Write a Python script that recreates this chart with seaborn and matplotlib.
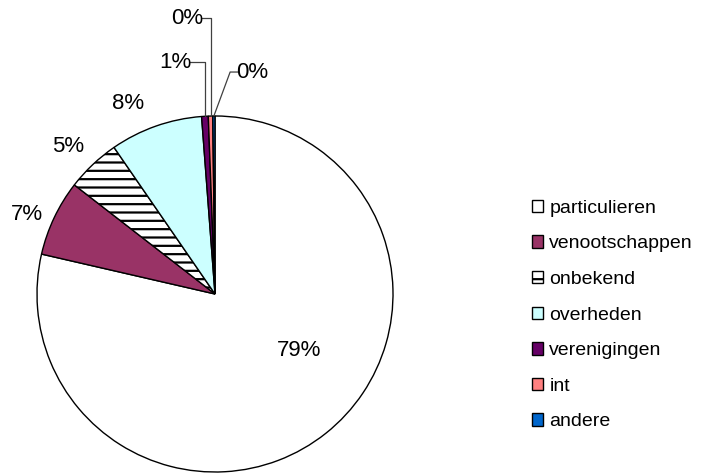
import numpy as np
import matplotlib
matplotlib.use("Agg")
import matplotlib.pyplot as plt
import seaborn as sns
from matplotlib.patches import Patch

sns.set_theme(style="white")
plt.rcParams['font.family'] = ['Liberation Sans', 'DejaVu Sans']
plt.rcParams['hatch.linewidth'] = 1.6
plt.rcParams['text.color'] = 'black'

categories = ["particulieren", "venootschappen", "onbekend", "overheden",
              "verenigingen", "int", "andere"]
values = [78.6, 6.9, 4.9, 8.4, 0.6, 0.4, 0.2]
colors = ["#FFFFFF", "#993366", "#FFFFFF", "#CCFFFF", "#660066", "#FF8080", "#0066CC"]
hatches = [None, None, "--", None, None, None, None]

W, H = 710, 473
fig = plt.figure(figsize=(W / 100, H / 100), dpi=100)
cx, cy, R = 215, 294, 178
ax = fig.add_axes([(cx - R) / W, (H - cy - R) / H, 2 * R / W, 2 * R / H])

wedges, _ = ax.pie(values, colors=colors, startangle=90, counterclock=False,
                   radius=1, wedgeprops=dict(edgecolor="black", linewidth=1.0))
ax.set_xlim(-1, 1)
ax.set_ylim(-1, 1)
ax.set_aspect("equal")
ax.axis("off")
for w, h in zip(wedges, hatches):
    if h:
        w.set_hatch(h)

labels = [f"{v:.0f}%" for v in values]
# label text centres (layout), in pie radius units
label_pos = [(0.47, -0.315), (-1.056, 0.444), (-0.826, 0.826), (-0.489, 1.073),
             (-0.225, 1.303), (-0.157, 1.55), (0.208, 1.247)]
for lab, (x, y) in zip(labels, label_pos):
    ax.text(x, y, lab, ha="center", va="center", fontsize=16, color="black")

# leader lines for tiny slices
def mid(w):
    t = np.deg2rad((w.theta1 + w.theta2) / 2)
    return np.cos(t), np.sin(t)

lc = "#404040"
# 1%
mx, my = mid(wedges[4])
ax.plot([-0.14, mx, mx], [1.303, 1.303, my], color=lc, lw=0.9, clip_on=False)
# int 0%
mx, my = mid(wedges[5])
ax.plot([-0.075, mx, mx], [1.55, 1.55, my], color=lc, lw=0.9, clip_on=False)
# andere 0%
mx, my = mid(wedges[6])
ax.plot([0.13, 0.085, mx], [1.247, 1.247, my], color=lc, lw=0.9, clip_on=False)

handles = [Patch(facecolor=c, edgecolor="black", hatch=h, linewidth=1.0)
           for c, h in zip(colors, hatches)]
leg = fig.legend(handles, categories, loc="upper left", bbox_to_anchor=(524 / W, 1 - 192 / H),
                 frameon=False, fontsize=14, handlelength=0.6, handleheight=0.6,
                 handletextpad=0.3, labelspacing=0.955, borderaxespad=0)
for t in leg.get_texts():
    t.set_color("black")

fig.savefig("out.png", dpi=100)
